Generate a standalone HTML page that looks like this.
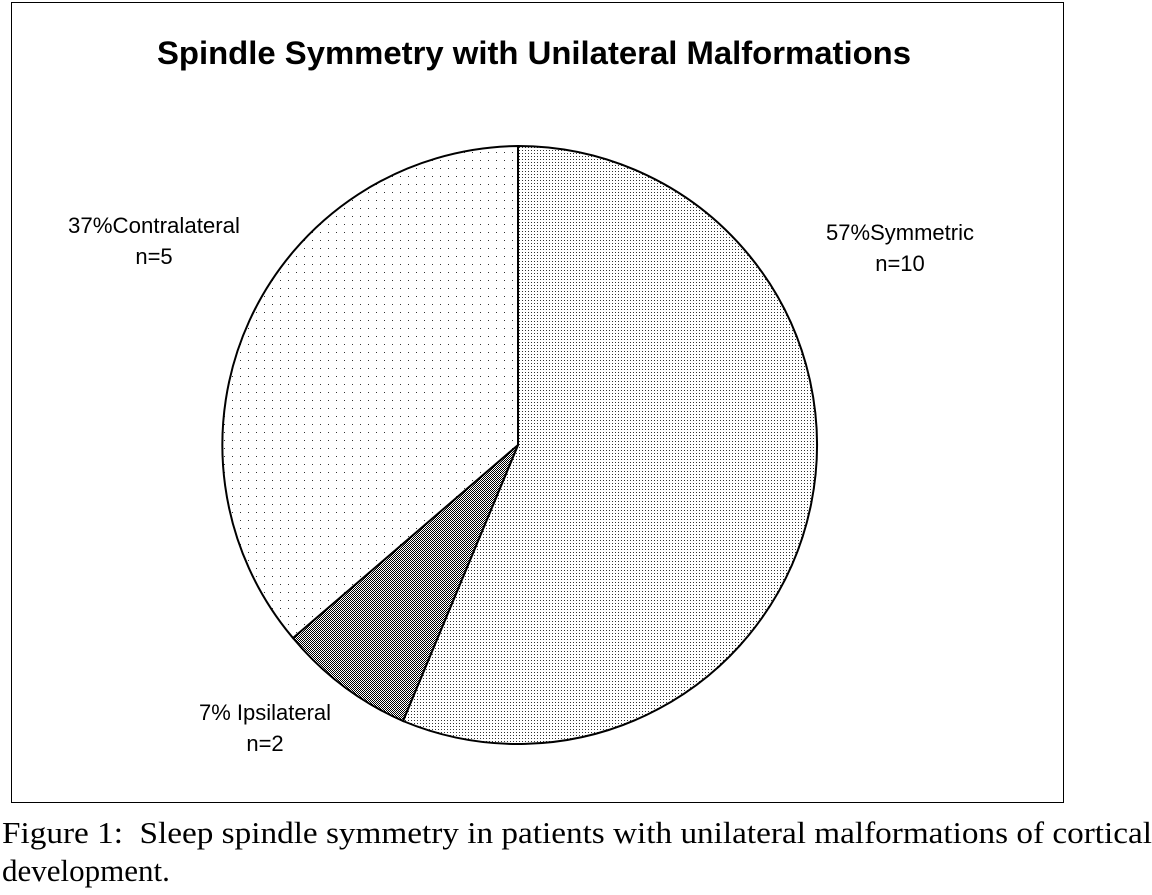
<!DOCTYPE html>
<html><head><style>
body{margin:0;background:#fff;width:1152px;height:895px;overflow:hidden;position:relative}
</style></head><body>
<svg width="1152" height="895" style="position:absolute;left:0;top:0">
<defs>
<pattern id="chk" width="2" height="2" patternUnits="userSpaceOnUse"><rect width="2" height="2" fill="#fff"/><rect width="1" height="1" fill="#000"/><rect x="1" y="1" width="1" height="1" fill="#000"/></pattern>
<pattern id="dense" width="3" height="3" patternUnits="userSpaceOnUse"><rect width="3" height="3" fill="#fff"/><rect width="1" height="1" fill="#333"/></pattern>
<pattern id="sparse" width="8" height="8" patternUnits="userSpaceOnUse"><rect width="8" height="8" fill="#fff"/><rect width="1" height="1" fill="#333"/></pattern>
</defs>
<rect x="11.5" y="2.5" width="1052" height="800" fill="#fff" stroke="#000" stroke-width="1"/>
<path d="M518,445 L518,146 A299,299 0 1 1 403,721 Z" fill="url(#dense)" stroke="#000" stroke-width="2"/>
<path d="M518,445 L403,721 A299,299 0 0 1 293,638 Z" fill="url(#chk)" stroke="#000" stroke-width="2"/>
<path d="M518,445 L293,638 A299,299 0 0 1 518,146 Z" fill="url(#sparse)" stroke="#000" stroke-width="2"/>
<g font-family="Liberation Sans, sans-serif" font-size="22" text-anchor="middle" fill="#000">
<text x="534" y="64" font-size="32" font-weight="bold" textLength="754" lengthAdjust="spacingAndGlyphs">Spindle Symmetry with Unilateral Malformations</text>
<text x="154" y="233" textLength="172" lengthAdjust="spacingAndGlyphs">37%Contralateral</text>
<text x="154" y="264">n=5</text>
<text x="900" y="240">57%Symmetric</text>
<text x="900" y="271">n=10</text>
<text x="265" y="720">7% Ipsilateral</text>
<text x="265" y="751">n=2</text>
</g>
<g font-family="Liberation Serif, serif" font-size="31" fill="#000">
<text x="2" y="843" textLength="1150" lengthAdjust="spacingAndGlyphs" xml:space="preserve">Figure 1:  Sleep spindle symmetry in patients with unilateral malformations of cortical</text>
<text x="2" y="881">development.</text>
</g>
</svg>
</body></html>
